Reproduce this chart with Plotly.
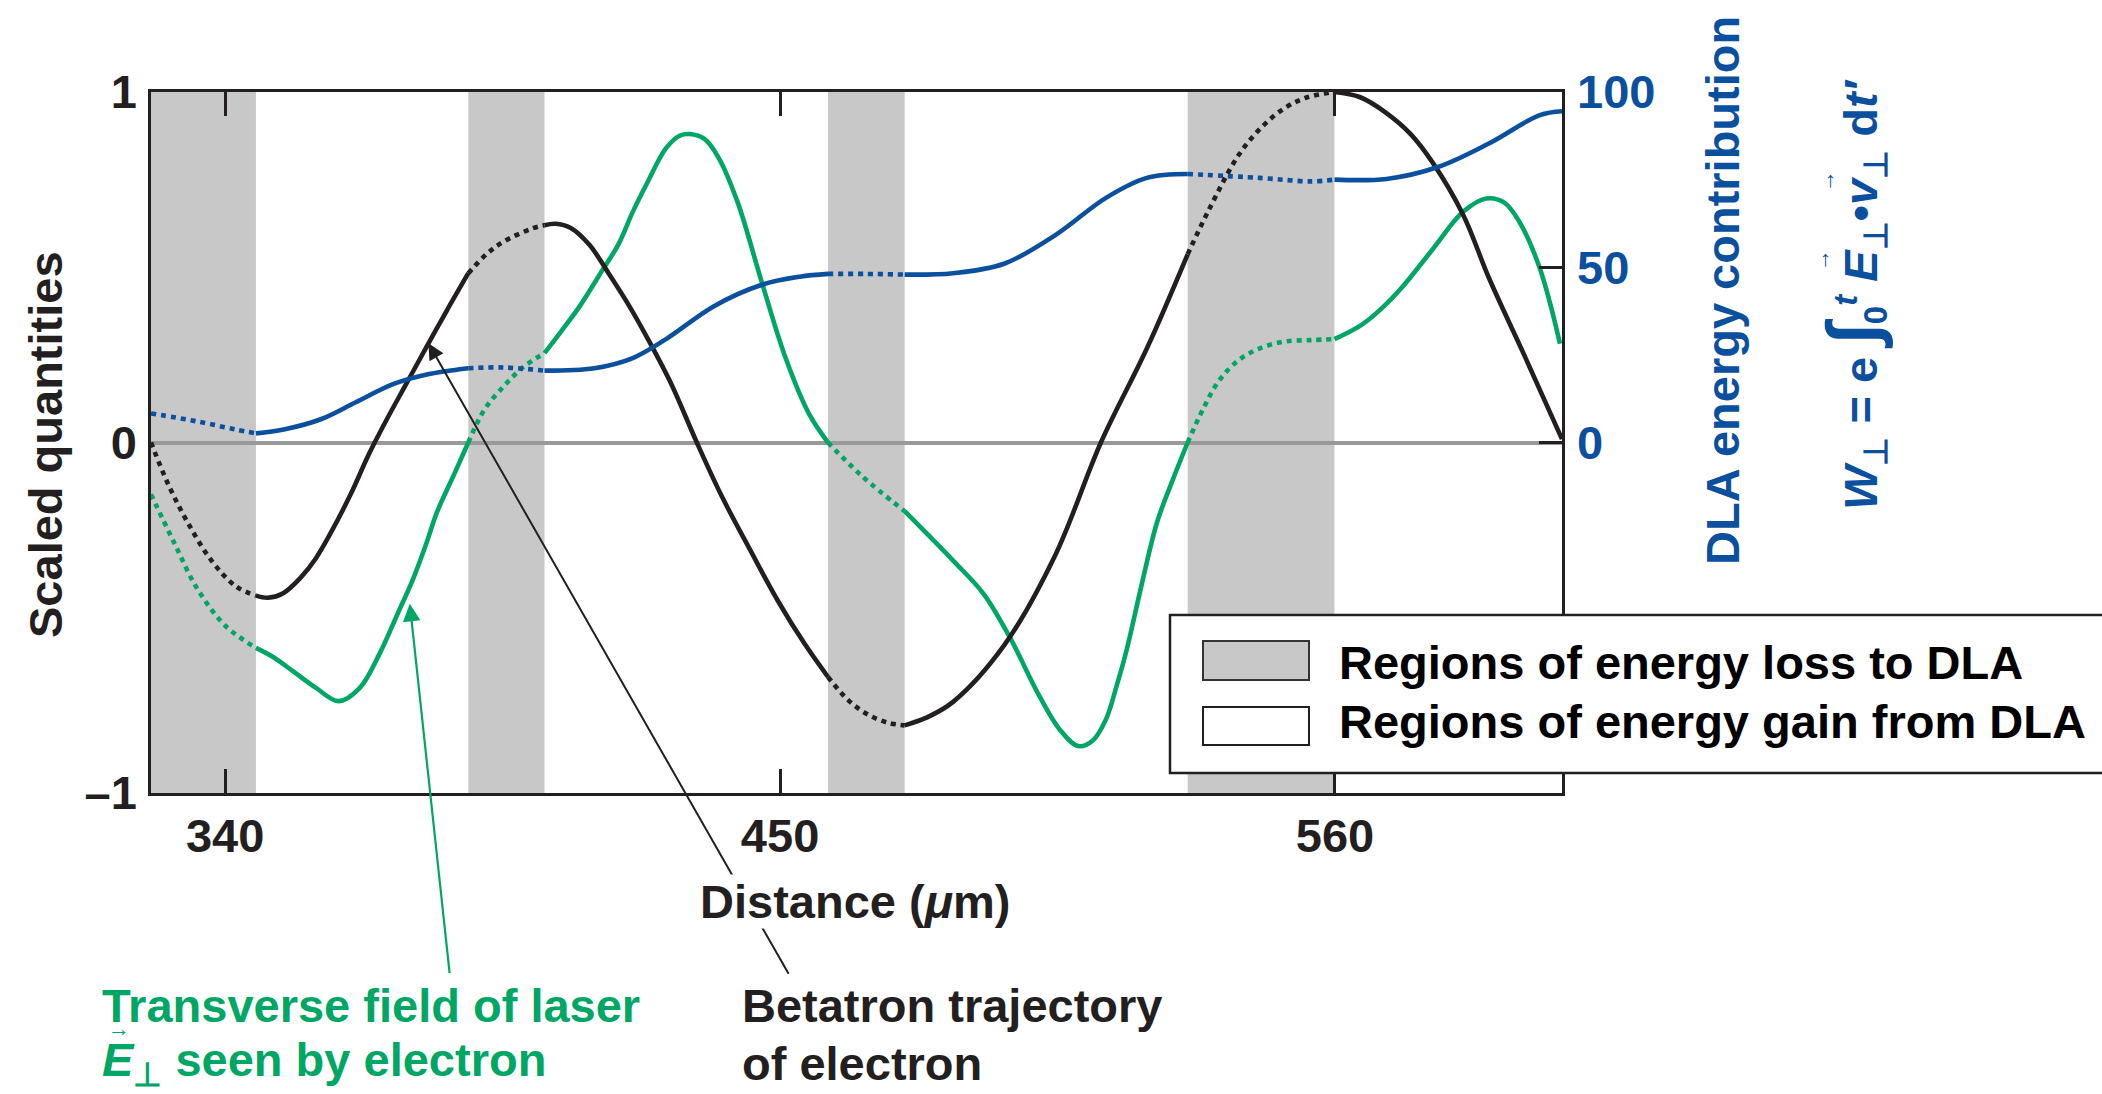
import plotly.graph_objects as go

# ---------------- data ----------------
LOSS_START = [325.3, 388.2, 459.5, 530.8]
LOSS_END = [346.1, 403.3, 474.7, 559.9]

BLACK_X = [325.3, 328.8, 332.6, 337.3, 342.1, 346.1, 348.5, 351.5, 355.0, 358.0, 361.0, 364.8,
           368.6, 372.0, 376.0, 380.0, 384.0, 388.2, 392.0, 395.2, 400.9, 403.3, 405.5, 408.5,
           412.2, 416.0, 420.0, 424.0, 428.5, 433.5, 438.5, 444.2, 449.5, 454.8, 459.5, 463.5,
           467.5, 471.5, 474.7, 479.0, 484.3, 494.4, 504.5, 513.6, 522.7, 530.8, 534.8, 540.9,
           545.5, 550.0, 554.5, 559.9, 565.0, 570.2, 575.0, 579.3, 585.4, 590.5, 597.5, 605.0]
BLACK_Y = [0.0, -0.122, -0.229, -0.337, -0.41, -0.437, -0.443, -0.430, -0.385, -0.33, -0.256, -0.15,
           -0.03, 0.065, 0.17, 0.275, 0.378, 0.483, 0.54, 0.573, 0.611, 0.62, 0.624, 0.612,
           0.564, 0.483, 0.392, 0.29, 0.165, 0.0, -0.155, -0.31, -0.45, -0.573, -0.669, -0.735,
           -0.777, -0.800, -0.807, -0.785, -0.74, -0.579, -0.323, 0.0, 0.268, 0.537, 0.658, 0.82,
           0.9, 0.954, 0.985, 1.0, 0.985, 0.94, 0.88, 0.80, 0.65, 0.47, 0.25, 0.01]

GREEN_X = [325.3, 329.8, 334.5, 340.2, 346.1, 349.5, 353.5, 358.0, 362.5, 366.7, 370.5, 374.3,
           377.2, 380.0, 381.9, 385.7, 388.2, 391.4, 395.2, 399.0, 403.3, 406.5, 410.3, 414.1,
           417.9, 420.8, 423.6, 427.4, 430.2, 432.1, 435.0, 437.8, 441.6, 446.4, 451.1, 455.8,
           459.5, 466.1, 474.7, 484.3, 490.3, 495.4, 501.5, 505.5, 509.1, 512.0, 514.6, 516.6,
           518.7, 521.7, 524.7, 527.8, 530.8, 533.8, 536.9, 540.9, 545.0, 550.0, 555.1, 559.9,
           565.2, 569.2, 573.3, 579.3, 585.4, 590.0, 593.5, 596.5, 600.6, 604.6]
GREEN_Y = [-0.148, -0.283, -0.418, -0.525, -0.586, -0.612, -0.653, -0.70, -0.738, -0.70, -0.606, -0.485,
           -0.391, -0.283, -0.202, -0.081, 0.0, 0.094, 0.16, 0.214, 0.255, 0.315, 0.389, 0.476,
           0.564, 0.658, 0.739, 0.84, 0.876, 0.88, 0.866, 0.813, 0.685, 0.456, 0.241, 0.08,
           0.0, -0.094, -0.196, -0.337, -0.431, -0.552, -0.726, -0.82, -0.866, -0.85, -0.79, -0.70,
           -0.592, -0.404, -0.229, -0.108, 0.0, 0.094, 0.174, 0.235, 0.268, 0.288, 0.292, 0.295,
           0.335, 0.382, 0.443, 0.55, 0.658, 0.696, 0.685, 0.631, 0.497, 0.282]

BLUE_X = [325.3, 334.5, 342.1, 346.1, 351.6, 359.1, 365.8, 373.4, 380.0, 388.2, 395.2, 403.3,
          413.2, 420.8, 427.4, 436.9, 446.4, 453.9, 459.5, 467.0, 474.7, 484.3, 494.4, 504.5,
          514.6, 522.7, 530.8, 545.0, 555.1, 559.9, 570.2, 580.4, 590.5, 600.6, 605.0]
BLUE_Y = [8.3, 6.0, 3.7, 2.6, 3.7, 6.7, 11.4, 16.7, 19.4, 21.2, 21.4, 20.5,
          21.2, 24.1, 29.5, 38.9, 45.0, 47.3, 48.1, 48.1, 47.9, 48.3, 51.0, 59.1,
          69.8, 75.5, 76.6, 75.5, 74.5, 75.0, 75.2, 78.6, 85.3, 93.4, 94.5]

X_RANGE = [325.3, 605.0]
X_TICKS = [340, 450, 560]
Y_TICKS = [-1, 0, 1]
Y_TICKTEXT = ["\u20131", "0", "1"]
Y2_TICKS = [0, 50, 100]

BLACK = "#231f20"
GREEN = "#00a664"
BLUE = "#0b4f9f"
SHADE = "#c8c8c8"
FONT = "Liberation Sans, Arial, sans-serif"
FS = 47
LW = 4.6

# plot box in pixels (for paper-coordinate helpers)
L, R, T, B = 151, 1562, 92, 793
W_IMG, H_IMG = 2102, 1094


def px(xpix):
    return (xpix - L) / (R - L)


def py(ypix):
    return (B - ypix) / (B - T)


def split(xs, ys):
    solid, dotted = [], []
    for x, y in zip(xs, ys):
        inside_open = any(s < x < e for s, e in zip(LOSS_START, LOSS_END))
        inside_closed = any(s <= x <= e for s, e in zip(LOSS_START, LOSS_END))
        solid.append(None if inside_open else y)
        dotted.append(y if inside_closed else None)
    return solid, dotted


fig = go.Figure()

for xs, ys, color, yax in [(BLUE_X, BLUE_Y, BLUE, "y2"),
                           (GREEN_X, GREEN_Y, GREEN, "y"),
                           (BLACK_X, BLACK_Y, BLACK, "y")]:
    solid, dotted = split(xs, ys)
    fig.add_trace(go.Scatter(x=xs, y=solid, mode="lines", yaxis=yax, connectgaps=False,
                             line=dict(color=color, width=LW, shape="spline", smoothing=1.0),
                             showlegend=False, hoverinfo="skip"))
    fig.add_trace(go.Scatter(x=xs, y=dotted, mode="lines", yaxis=yax, connectgaps=False,
                             line=dict(color=color, width=LW, shape="spline", smoothing=1.0,
                                       dash="5px,5px"),
                             showlegend=False, hoverinfo="skip"))

shapes = []
for s, e in zip(LOSS_START, LOSS_END):
    shapes.append(dict(type="rect", xref="x", yref="paper", x0=s, x1=e, y0=0, y1=1,
                       fillcolor=SHADE, line=dict(width=0), layer="below"))

# legend box (custom)
shapes.append(dict(type="rect", xref="paper", yref="paper", x0=px(1170), x1=px(2120),
                   y0=py(773), y1=py(615), fillcolor="white",
                   line=dict(color=BLACK, width=2.5), layer="above"))
shapes.append(dict(type="rect", xref="paper", yref="paper", x0=px(1203), x1=px(1309),
                   y0=py(680), y1=py(641), fillcolor=SHADE,
                   line=dict(color="#333333", width=2), layer="above"))
shapes.append(dict(type="rect", xref="paper", yref="paper", x0=px(1203), x1=px(1309),
                   y0=py(745), y1=py(707), fillcolor="white",
                   line=dict(color=BLACK, width=2), layer="above"))

bold = dict(family=FONT, size=FS, weight="bold")
small_arrow = dict(family=FONT, size=22, weight="bold")

annotations = [
    # arrows
    dict(x=380.3, y=0.283, xref="x", yref="y", ax=361, ay=632, text="", showarrow=True,
         arrowhead=2, arrowsize=1.6, arrowwidth=2, arrowcolor=BLACK, standoff=0),
    dict(x=376.6, y=-0.46, xref="x", yref="y", ax=40, ay=371, text="", showarrow=True,
         arrowhead=2, arrowsize=1.6, arrowwidth=2.2, arrowcolor=GREEN, standoff=0),
    # x axis title (white background interrupts arrow line)
    dict(x=px(855), y=py(902), xref="paper", yref="paper", text="Distance (<i>\u03bc</i>m)",
         showarrow=False, font=dict(bold, color=BLACK), bgcolor="white", borderpad=0,
         xanchor="center", yanchor="middle"),
    # y titles
    dict(x=px(45), y=py(445), xref="paper", yref="paper", text="Scaled quantities",
         textangle=-90, showarrow=False, font=dict(bold, color=BLACK),
         xanchor="center", yanchor="middle"),
    dict(x=px(1722), y=py(291), xref="paper", yref="paper", text="DLA energy contribution",
         textangle=-90, showarrow=False, font=dict(bold, color=BLUE),
         xanchor="center", yanchor="middle"),
    dict(x=px(1853), y=py(295), xref="paper", yref="paper",
         text=("<i>W</i><sub>\u22a5</sub> = e <span style='font-size:72px'>\u222b</span>"
               "<sub>0</sub><sup><i>t</i></sup> <i>E</i><sub>\u22a5</sub>\u2022"
               "<i>v</i><sub>\u22a5</sub> d<i>t\u2032</i>"),
         textangle=-90, showarrow=False, font=dict(bold, color=BLUE),
         xanchor="center", yanchor="middle"),
    # vector arrows over E and v in the formula (rotated text)
    dict(x=px(1821), y=py(260), xref="paper", yref="paper", text="\u2192", textangle=-90,
         showarrow=False, font=dict(small_arrow, color=BLUE), xanchor="center", yanchor="middle"),
    dict(x=px(1826), y=py(181), xref="paper", yref="paper", text="\u2192", textangle=-90,
         showarrow=False, font=dict(small_arrow, color=BLUE), xanchor="center", yanchor="middle"),
    # legend texts
    dict(x=px(1337), y=py(662), xref="paper", yref="paper", text="Regions of energy loss to DLA",
         showarrow=False, font=dict(bold, color="black"), xanchor="left", yanchor="middle"),
    dict(x=px(1337), y=py(721), xref="paper", yref="paper", text="Regions of energy gain from DLA",
         showarrow=False, font=dict(bold, color="black"), xanchor="left", yanchor="middle"),
    # bottom labels
    dict(x=px(100), y=py(1005), xref="paper", yref="paper", text="Transverse field of laser",
         showarrow=False, font=dict(bold, color=GREEN), xanchor="left", yanchor="middle"),
    dict(x=px(100), y=py(1063), xref="paper", yref="paper",
         text="<i>E</i><sub>\u22a5</sub> seen by electron",
         showarrow=False, font=dict(bold, color=GREEN), xanchor="left", yanchor="middle"),
    dict(x=px(119), y=py(1028), xref="paper", yref="paper", text="\u2192",
         showarrow=False, font=dict(small_arrow, color=GREEN),
         xanchor="center", yanchor="middle"),
    dict(x=px(740), y=py(1005), xref="paper", yref="paper", text="Betatron trajectory",
         showarrow=False, font=dict(bold, color=BLACK), xanchor="left", yanchor="middle"),
    dict(x=px(740), y=py(1063), xref="paper", yref="paper", text="of electron",
         showarrow=False, font=dict(bold, color=BLACK), xanchor="left", yanchor="middle"),
]

fig.update_layout(
    width=W_IMG, height=H_IMG,
    margin=dict(l=L, r=W_IMG - R, t=T, b=H_IMG - B, pad=0),
    paper_bgcolor="white", plot_bgcolor="white",
    font=dict(family=FONT, size=FS, color=BLACK, weight="bold"),
    showlegend=False,
    shapes=shapes,
    annotations=annotations,
    xaxis=dict(range=X_RANGE, tickvals=X_TICKS, ticks="inside", ticklen=24, tickwidth=2.5,
               tickcolor=BLACK, showline=True, linewidth=2.5, linecolor=BLACK, mirror="ticks",
               showgrid=False, zeroline=False, ticklabelstandoff=0,
               tickfont=dict(family=FONT, size=FS, color=BLACK, weight="bold")),
    yaxis=dict(range=[-1, 1], tickvals=Y_TICKS, ticktext=Y_TICKTEXT, ticks="",
               showline=True, linewidth=2.5, linecolor=BLACK, mirror=True, showgrid=False,
               zeroline=True, zerolinecolor="#999999", zerolinewidth=4, ticklabelstandoff=2,
               tickfont=dict(family=FONT, size=FS, color=BLACK, weight="bold")),
    yaxis2=dict(range=[-100, 100], tickvals=Y2_TICKS, overlaying="y", side="right",
                ticks="inside", ticklen=23, tickwidth=2.5, tickcolor=BLACK, showline=False,
                showgrid=False, zeroline=False, ticklabelstandoff=14,
                tickfont=dict(family=FONT, size=FS, color=BLUE, weight="bold")),
)

fig.write_html("out.html")
